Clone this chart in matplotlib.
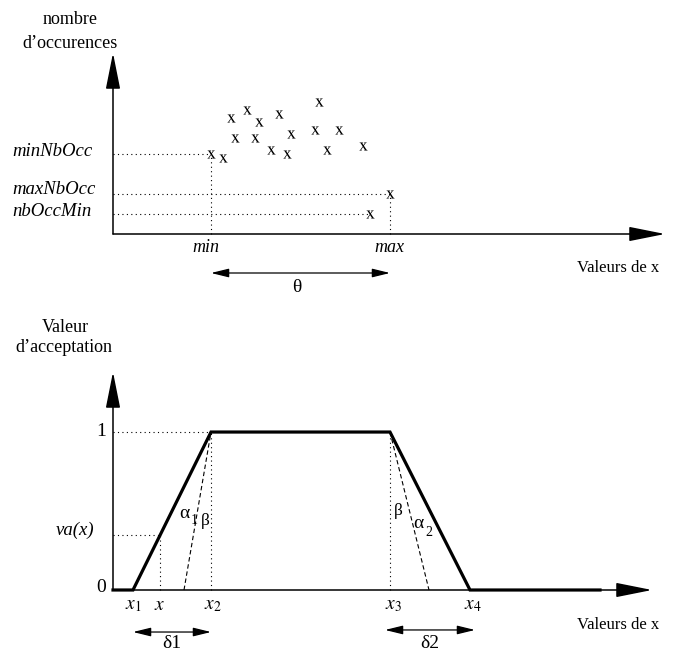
import numpy as np
import matplotlib.pyplot as plt

plt.rcParams['font.family'] = ['Liberation Serif', 'DejaVu Serif']
plt.rcParams['mathtext.fontset'] = 'stix'

W, H = 680, 650

# Top panel: occurrences of the values of x (units: 20 px per unit on both axes)
occ_x = [4.9, 5.5, 5.9, 6.7, 7.3, 8.3, 10.3, 6.1, 7.1, 8.9, 10.1, 11.3,
         7.9, 8.7, 10.7, 12.5, 13.85, 12.85]
occ_n = [4.0, 3.8, 5.8, 6.2, 5.6, 6.0, 6.6, 4.8, 4.8, 5.0, 5.2, 5.2,
         4.2, 4.0, 4.2, 4.4, 2.0, 1.0]
x_min, x_max = 4.9, 13.85
min_nb_occ, max_nb_occ, nb_occ_min = 4.0, 2.0, 1.0
top_xlim, top_ylim = 27.6, 9.05

# Bottom panel: acceptance value (trapezoid)
x1, x2, x3, x4 = 1.0, 4.9, 13.85, 17.85
x_end = 24.35
x_va = 2.35
curve_x = [0.0, x1, x2, x3, x4, x_end]
curve_y = [0.0, 0.0, 1.0, 1.0, 0.0, 0.0]
foot_left, foot_right = 3.55, 15.8
bot_xlim, bot_ylim = 26.95, 1.38


def px(x, y):
    return x / W, 1 - y / H


fig = plt.figure(figsize=(6.8, 6.5), dpi=100)

ax1 = fig.add_axes([113 / W, (H - 234) / H, 552 / W, 181 / H])
ax2 = fig.add_axes([113 / W, (H - 590) / H, 539 / W, 218 / H])
for ax, xl, yl in [(ax1, top_xlim, top_ylim), (ax2, bot_xlim, bot_ylim)]:
    ax.set_xlim(0, xl)
    ax.set_ylim(0, yl)
    ax.axis('off')
    big = dict(arrowstyle='-|>,head_length=1.6,head_width=0.32', lw=1.1,
               color='black', shrinkA=0, shrinkB=0, mutation_scale=14)
    ax.annotate('', xy=(xl, 0), xytext=(0, 0), arrowprops=big, annotation_clip=False)
    ax.annotate('', xy=(0, yl), xytext=(0, 0), arrowprops=big, annotation_clip=False)

dot = dict(color='black', lw=0.8, ls=(0, (1, 3)), clip_on=False)
dash = dict(color='black', lw=0.8, ls=(0, (4, 2.5)), clip_on=False)
dbl = dict(arrowstyle='<|-|>,head_length=0.9,head_width=0.22', lw=0.9,
           color='black', shrinkA=0, shrinkB=0, mutation_scale=12)

# --- top panel ---
ax1.plot([0, x_min], [min_nb_occ] * 2, **dot)
ax1.plot([x_min] * 2, [0, min_nb_occ], **dot)
ax1.plot([0, x_max], [max_nb_occ] * 2, **dot)
ax1.plot([x_max] * 2, [0, max_nb_occ], **dot)
ax1.plot([0, occ_x[-1]], [nb_occ_min] * 2, **dot)
ax1.plot(occ_x, occ_n, ls='none', marker=r'$\mathrm{x}$', ms=6, mew=0,
         color='black', clip_on=False)
ax1.annotate('', xy=(x_max, -1.95), xytext=(x_min, -1.95), arrowprops=dbl,
             annotation_clip=False)

fig.text(*px(70, 20), 'nombre', ha='center', va='center', fontsize=13)
fig.text(*px(70, 43), 'd\u2019occurences', ha='center', va='center', fontsize=13)
for label, y in [('minNbOcc', 151), ('maxNbOcc', 189), ('nbOccMin', 212)]:
    fig.text(*px(12, y), label, ha='left', va='center', fontsize=13.5, style='italic')
fig.text(*px(206, 247), 'min', ha='center', va='center', fontsize=13, style='italic')
fig.text(*px(389, 247), 'max', ha='center', va='center', fontsize=13, style='italic')
fig.text(*px(297, 287), '\u03b8', ha='center', va='center', fontsize=14)
fig.text(*px(618, 268), 'Valeurs de x', ha='center', va='center', fontsize=12)

# --- bottom panel ---
va = np.interp(x_va, curve_x, curve_y)
ax2.plot([0, x2], [1, 1], **dot)
ax2.plot([x2, x2], [0, 1], **dot)
ax2.plot([x3, x3], [0, 1], **dot)
ax2.plot([0, x_va], [va, va], **dot)
ax2.plot([x_va, x_va], [0, va], **dot)
ax2.plot([foot_left, x2], [0, 1], **dash)
ax2.plot([x3, foot_right], [1, 0], **dash)
ax2.plot(curve_x, curve_y, color='black', lw=2.3, solid_joinstyle='miter',
         clip_on=False)
ax2.annotate('', xy=(x2, -0.266), xytext=(x1, -0.266), arrowprops=dbl,
             annotation_clip=False)
ax2.annotate('', xy=(x4 + 0.25, -0.253), xytext=(x3 - 0.25, -0.253),
             arrowprops=dbl, annotation_clip=False)

fig.text(*px(65, 327), 'Valeur', ha='center', va='center', fontsize=13)
fig.text(*px(64, 347), 'd\u2019acceptation', ha='center', va='center', fontsize=13)
fig.text(*px(101, 432), '1', ha='center', va='center', fontsize=14)
fig.text(*px(101, 587), '0', ha='center', va='center', fontsize=14)
fig.text(*px(75, 530), 'va(x)', ha='center', va='center', fontsize=13.5, style='italic')
for label, x in [(r'$x_1$', 133), (r'$x$', 160), (r'$x_2$', 213),
                 (r'$x_3$', 393), (r'$x_4$', 473)]:
    fig.text(*px(x, 606), label, ha='center', va='center', fontsize=14)
fig.text(*px(172, 643), '\u03b41', ha='center', va='center', fontsize=14)
fig.text(*px(430, 643), '\u03b42', ha='center', va='center', fontsize=14)
fig.text(*px(184, 513), '\u03b1', ha='center', va='center', fontsize=14)
fig.text(*px(194, 521), '1', ha='center', va='center', fontsize=10)
fig.text(*px(205, 521), '\u03b2', ha='center', va='center', fontsize=12.5)
fig.text(*px(398, 511), '\u03b2', ha='center', va='center', fontsize=12.5)
fig.text(*px(418, 524), '\u03b1', ha='center', va='center', fontsize=14)
fig.text(*px(429, 532), '2', ha='center', va='center', fontsize=10)
fig.text(*px(618, 625), 'Valeurs de x', ha='center', va='center', fontsize=12)

fig.savefig('out.png', dpi=100)
